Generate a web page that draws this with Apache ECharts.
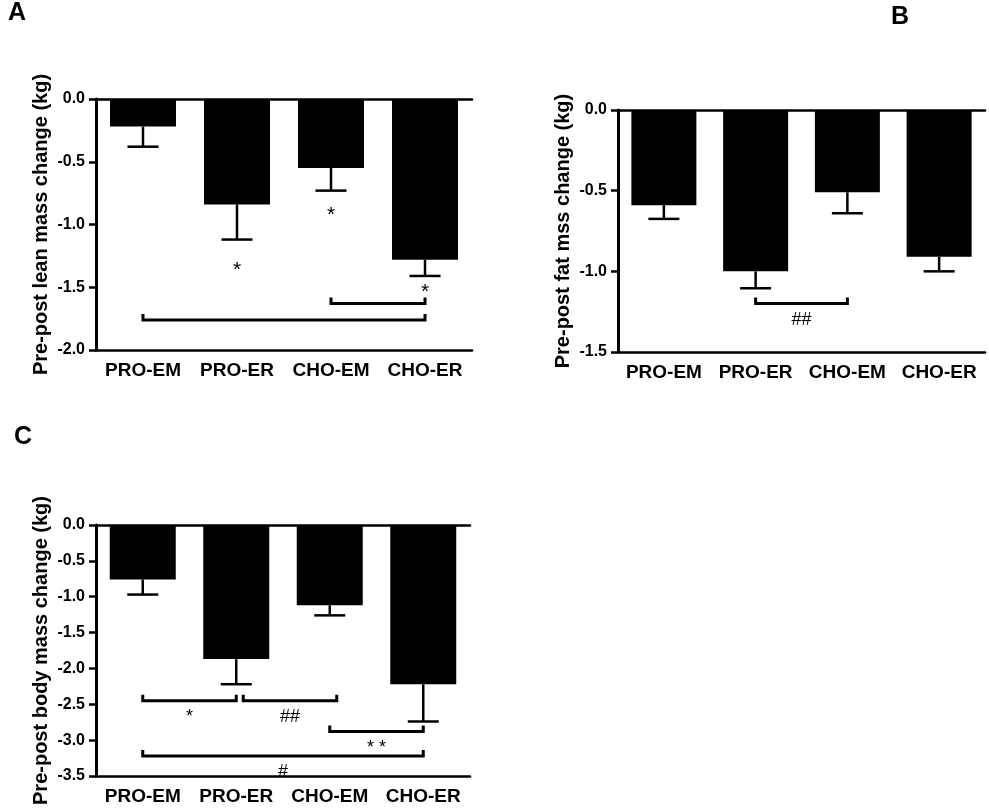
<!DOCTYPE html>
<html><head><meta charset="utf-8">
<script src="https://cdn.jsdelivr.net/npm/echarts@6/dist/echarts.min.js"></script>
<style>html,body{margin:0;padding:0;background:#fff}#c{width:989px;height:811px}</style>
</head><body><div id="c"></div>
<script>
// ---- data ----
const categories = ['PRO-EM', 'PRO-ER', 'CHO-EM', 'CHO-ER'];

const leanMean = [-0.22, -0.84, -0.55, -1.28];
const leanSem  = [0.16, 0.28, 0.18, 0.13];
const leanBrackets = [[2, 3, -1.63, ''], [0, 3, -1.76, '']];
const leanMarks = [[1, -1.35, '*'], [2, -0.91, '*'], [3, -1.52, '*']];
const leanTicks = [0, -2.0];

const fatMean = [-0.59, -1.00, -0.51, -0.91];
const fatSem  = [0.085, 0.105, 0.13, 0.09];
const fatBrackets = [[1, 2, -1.2, '##']];
const fatMarks = [];
const fatTicks = [0, -1.5];

const bodyMean = [-0.76, -1.87, -1.12, -2.22];
const bodySem  = [0.21, 0.35, 0.14, 0.52];
const bodyBrackets = [[0, 1, -2.45, '*'], [1, 2, -2.45, '##'], [2, 3, -2.88, '* *'], [0, 3, -3.22, '#']];
const bodyMarks = [];
const bodyTicks = [0, -3.5];

const yNames = ['Pre-post lean mass change (kg)', 'Pre-post fat mss change (kg)', 'Pre-post body mass change (kg)'];
const panelLetters = ['A', 'B', 'C'];

// ---- layout / style ----
const FONT = 'Liberation Sans';
const grids = [
  {left: 96, top: 99, width: 376, height: 251},
  {left: 618, top: 110, width: 367, height: 242},
  {left: 96, top: 525, width: 374, height: 251}
];
const barWidths = [66, 65, 66];
const panels = [
  {mean: leanMean, sem: leanSem, br: leanBrackets, marks: leanMarks, ticks: leanTicks},
  {mean: fatMean, sem: fatSem, br: fatBrackets, marks: fatMarks, ticks: fatTicks},
  {mean: bodyMean, sem: bodySem, br: bodyBrackets, marks: bodyMarks, ticks: bodyTicks}
];

const chart = echarts.init(document.getElementById('c'), null, {renderer: 'canvas'});

const xAxes = [], yAxes = [], series = [];
panels.forEach((p, g) => {
  xAxes.push({
    type: 'category', gridIndex: g, data: categories, position: 'bottom',
    axisLine: {onZero: false, lineStyle: {color: '#000', width: 2.5}},
    axisTick: {alignWithLabel: true, length: 7, lineStyle: {color: '#000', width: 2.5}},
    axisLabel: {interval: 0, color: '#000', fontFamily: FONT, fontWeight: 'bold', fontSize: 19, margin: 11}
  });
  xAxes.push({
    type: 'category', gridIndex: g, data: categories, position: 'top',
    axisLine: {onZero: false, lineStyle: {color: '#000', width: 2.5}},
    axisTick: {show: false}, axisLabel: {show: false}
  });
  yAxes.push({
    type: 'value', gridIndex: g, min: p.ticks[1], max: p.ticks[0], interval: 0.5,
    name: yNames[g], nameLocation: 'middle', nameGap: 45,
    nameTextStyle: {color: '#000', fontFamily: FONT, fontWeight: 'bold', fontSize: 20},
    axisLine: {show: true, lineStyle: {color: '#000', width: 3}},
    axisTick: {show: true, length: 7, lineStyle: {color: '#000', width: 2.5}},
    axisLabel: {color: '#000', fontFamily: FONT, fontWeight: 'bold', fontSize: 16, margin: 11,
      formatter: v => v.toFixed(1)},
    splitLine: {show: false}
  });
  const xi = g * 2;
  series.push({
    type: 'bar', xAxisIndex: xi, yAxisIndex: g, data: p.mean, barWidth: barWidths[g],
    itemStyle: {color: '#000'}, silent: true, animation: false
  });
  // error bars (one-sided, downward)
  series.push({
    type: 'custom', xAxisIndex: xi, yAxisIndex: g, animation: false, silent: true,
    data: p.mean.map((m, i) => [i, m, m - p.sem[i]]),
    encode: {x: 0, y: [1, 2]},
    renderItem: (params, api) => {
      const top = api.coord([api.value(0), api.value(1)]);
      const bot = api.coord([api.value(0), api.value(2)]);
      const half = 15.5;
      return {
        type: 'group', children: [
          {type: 'line', shape: {x1: top[0], y1: top[1], x2: bot[0], y2: bot[1]},
            style: {stroke: '#000', lineWidth: 2.5}},
          {type: 'line', shape: {x1: bot[0] - half, y1: bot[1], x2: bot[0] + half, y2: bot[1]},
            style: {stroke: '#000', lineWidth: 2.5}}
        ]
      };
    }
  });
  // significance brackets
  if (p.br.length) series.push({
    type: 'custom', xAxisIndex: xi, yAxisIndex: g, animation: false, silent: true,
    data: p.br.map(b => [b[0], b[1], b[2]]),
    encode: {x: [0, 1], y: 2},
    renderItem: (params, api) => {
      const b = p.br[params.dataIndex];
      // shift a bracket that starts where another one (same level) ends
      const adj = p.br.some(o => o !== b && o[1] === b[0] && o[2] === b[2]);
      const s = adj ? 7 : 0;
      const a = api.coord([b[0], b[2]]);
      const c = api.coord([b[1], b[2]]);
      const x1 = a[0] + s, x2 = c[0] + s, y = a[1];
      const ch = [
        {type: 'polyline', shape: {points: [[x1, y - 6], [x1, y], [x2, y], [x2, y - 6]]},
          style: {stroke: '#000', lineWidth: 3, fill: null, lineJoin: 'miter'}}
      ];
      if (b[3]) ch.push({type: 'text', x: (x1 + x2) / 2, y: y + 16,
        style: {text: b[3], fill: '#000', font: '18px ' + FONT, align: 'center', verticalAlign: 'middle'}});
      return {type: 'group', children: ch};
    }
  });
  if (p.marks.length) series.push({
    type: 'custom', xAxisIndex: xi, yAxisIndex: g, animation: false, silent: true,
    data: p.marks.map(m => [m[0], m[1]]),
    encode: {x: 0, y: 1},
    renderItem: (params, api) => {
      const m = p.marks[params.dataIndex];
      const pt = api.coord([m[0], m[1]]);
      return {type: 'text', x: pt[0], y: pt[1] + 2,
        style: {text: m[2], fill: '#000', font: '21px ' + FONT, align: 'center', verticalAlign: 'middle'}};
    }
  });
});

const letterPos = [[8, 1], [891, 5], [14, 425]];
chart.setOption({
  animation: false,
  backgroundColor: '#fff',
  grid: grids,
  xAxis: xAxes,
  yAxis: yAxes,
  series: series,
  graphic: panelLetters.map((t, i) => ({
    type: 'text', left: letterPos[i][0], top: letterPos[i][1],
    style: {text: t, fill: '#000', font: 'bold 25px ' + FONT}
  }))
});
</script></body></html>
